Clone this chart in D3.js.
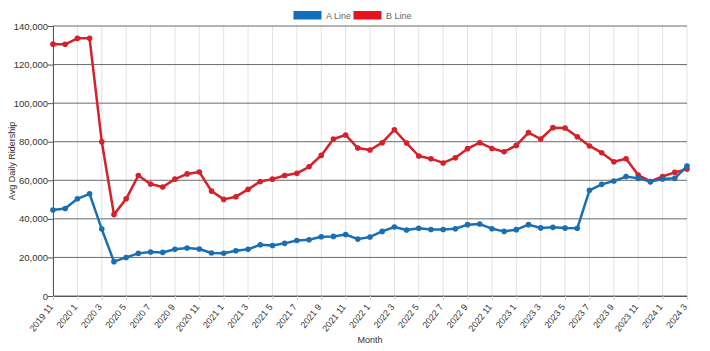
<!DOCTYPE html>
<html>
<head>
<meta charset="utf-8">
<script src="https://cdn.jsdelivr.net/npm/d3@7"></script>
<style>
  body { margin: 0; background: #fff; }
  svg { font-family: "Liberation Sans", Arial, sans-serif; }
</style>
</head>
<body>
<svg id="chart"></svg>
<script>
// 月份 (2019-11 ~ 2024-3)
const months = [
  "2019 11", "2019 12",
  "2020 1", "2020 2", "2020 3", "2020 4", "2020 5", "2020 6", "2020 7", "2020 8", "2020 9", "2020 10", "2020 11", "2020 12",
  "2021 1", "2021 2", "2021 3", "2021 4", "2021 5", "2021 6", "2021 7", "2021 8", "2021 9", "2021 10", "2021 11", "2021 12",
  "2022 1", "2022 2", "2022 3", "2022 4", "2022 5", "2022 6", "2022 7", "2022 8", "2022 9", "2022 10", "2022 11", "2022 12",
  "2023 1", "2023 2", "2023 3", "2023 4", "2023 5", "2023 6", "2023 7", "2023 8", "2023 9", "2023 10", "2023 11", "2023 12",
  "2024 1", "2024 2", "2024 3"
];

const aLine = [44600, 45400, 50400, 53000, 34700, 17800, 20000, 22100, 22800, 22600,
  24200, 24900, 24400, 22300, 22200, 23500, 24200, 26600, 26200, 27300,
  28800, 29200, 30700, 30900, 31900, 29500, 30600, 33500, 35800, 34200,
  35100, 34500, 34500, 34900, 37000, 37300, 34900, 33500, 34400, 37000,
  35300, 35600, 35200, 35100, 54800, 57900, 59600, 61900, 61000, 59300,
  60700, 61000, 67400];

const bLine = [130600, 130500, 133600, 133600, 80000, 42200, 50400, 62500, 58100, 56500,
  60600, 63300, 64300, 54400, 50100, 51500, 55300, 59400, 60600, 62500,
  63600, 67000, 72900, 81400, 83500, 76700, 75700, 79500, 86200, 79300,
  72600, 71200, 69000, 71700, 76400, 79500, 76500, 74800, 78100, 84700,
  81400, 87300, 87100, 82600, 77800, 74300, 69600, 71200, 62700, 59400,
  62000, 64100, 65800];

const seriesNames = ["A Line", "B Line"];
const lineColors = ["#1a6fb2", "#d6202a"];
const legendColors = ["#0f6fbf", "#e3141f"];
const yTicks = [0, 20000, 40000, 60000, 80000, 100000, 120000, 140000];

const width = 710, height = 351;
const margin = { top: 26, right: 23, bottom: 55, left: 53 };

const svg = d3.select("#chart")
  .attr("width", width)
  .attr("height", height);

const x = d3.scalePoint()
  .domain(months)
  .range([margin.left, width - margin.right]);

const y = d3.scaleLinear()
  .domain([0, 140000])
  .range([height - margin.bottom, margin.top]);

// 只标注隔月
const labelMonths = months.filter((d, i) => i % 2 === 0);

// 竖直网格线
svg.append("g")
  .selectAll("line")
  .data(labelMonths)
  .enter()
  .append("line")
  .attr("x1", d => x(d)).attr("x2", d => x(d))
  .attr("y1", margin.top).attr("y2", height - margin.bottom)
  .attr("stroke", "#e2e2e2")
  .attr("stroke-width", 1);

// 水平网格线
svg.append("g")
  .selectAll("line")
  .data(yTicks)
  .enter()
  .append("line")
  .attr("x1", margin.left).attr("x2", width - margin.right)
  .attr("y1", d => y(d)).attr("y2", d => y(d))
  .attr("stroke", "#6a6a6a")
  .attr("stroke-width", 1);

// y 轴
const yAxis = svg.append("g")
  .attr("transform", `translate(${margin.left},0)`)
  .call(d3.axisLeft(y).tickValues(yTicks).tickSize(5).tickFormat(d3.format(",")));
yAxis.select(".domain").attr("stroke", "#555");
yAxis.selectAll(".tick line").attr("stroke", "#555");
yAxis.selectAll("text")
  .attr("fill", "#333")
  .style("font-size", "9.5px")
  .attr("x", -5);

// x 轴
const xAxis = svg.append("g")
  .attr("transform", `translate(0,${height - margin.bottom})`)
  .call(d3.axisBottom(x).tickValues(labelMonths).tickSize(4));
xAxis.select(".domain").attr("stroke", "#555");
xAxis.selectAll(".tick line").attr("stroke", "#ccc");
xAxis.selectAll("text")
  .attr("fill", "#333")
  .style("font-size", "9px")
  .attr("text-anchor", "end")
  .attr("dy", "0.35em")
  .attr("transform", "translate(0,6) rotate(-52)")
  .attr("x", -4)
  .attr("y", 0);

// 轴标题
svg.append("text")
  .attr("transform", `translate(15,${(margin.top + height - margin.bottom) / 2}) rotate(-90)`)
  .attr("text-anchor", "middle")
  .attr("fill", "#333")
  .style("font-size", "9px")
  .text("Avg Daily Ridership");

svg.append("text")
  .attr("x", (margin.left + width - margin.right) / 2)
  .attr("y", 343)
  .attr("text-anchor", "middle")
  .attr("fill", "#333")
  .style("font-size", "9px")
  .text("Month");

// 折线
const line = d3.line()
  .x((d, i) => x(months[i]))
  .y(d => y(d));

const seriesData = [aLine, bLine];

// B 先画, A 在上面
[1, 0].forEach(k => {
  const g = svg.append("g");
  g.append("path")
    .datum(seriesData[k])
    .attr("d", line)
    .attr("fill", "none")
    .attr("stroke", lineColors[k])
    .attr("stroke-width", 2.5)
    .attr("stroke-linejoin", "round");
  g.selectAll("circle")
    .data(seriesData[k])
    .enter()
    .append("circle")
    .attr("cx", (d, i) => x(months[i]))
    .attr("cy", d => y(d))
    .attr("r", 2.8)
    .attr("fill", lineColors[k]);
});

// 图例
const legendX = [293, 353];
const legend = svg.append("g");
seriesNames.forEach((name, k) => {
  legend.append("rect")
    .attr("x", legendX[k]).attr("y", 10.5)
    .attr("width", 29).attr("height", 9.5)
    .attr("fill", legendColors[k])
    .attr("stroke", "#fff");
  legend.append("text")
    .attr("x", legendX[k] + 33).attr("y", 18.5)
    .attr("fill", "#666")
    .style("font-size", "9px")
    .text(name);
});
</script>
</body>
</html>
